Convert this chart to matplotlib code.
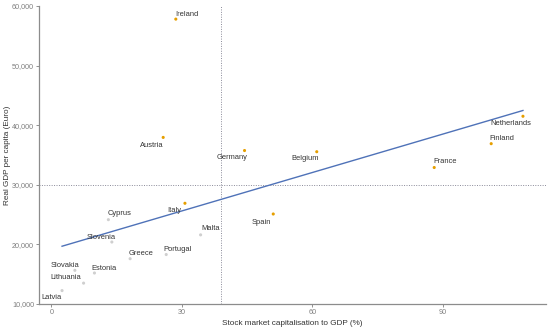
import numpy as np
import matplotlib
matplotlib.use("Agg")
import matplotlib.pyplot as plt

countries = ["Ireland", "Austria", "Germany", "Belgium", "Italy", "Spain", "Malta",
             "Netherlands", "Finland", "France", "Cyprus", "Slovenia", "Greece",
             "Portugal", "Slovakia", "Estonia", "Lithuania", "Latvia"]
market_cap = [28.6, 25.7, 44.4, 61.0, 30.7, 51.0, 34.3,
              108.4, 101.1, 88.0, 13.1, 13.9, 18.1,
              26.4, 5.4, 9.9, 7.4, 2.45]
gdp_pc = [57800, 37950, 35750, 35550, 26900, 25100, 21600,
          41500, 36900, 32900, 24150, 20400, 17600,
          18300, 15650, 15200, 13500, 12250]
group = ["core", "core", "core", "core", "core", "core", "periphery",
         "core", "core", "core", "periphery", "periphery", "periphery",
         "periphery", "periphery", "periphery", "periphery", "periphery"]
x_ref = 39
y_ref = 30000
x_ticks = [0, 30, 60, 90]
y_ticks = [10000, 20000, 30000, 40000, 50000, 60000]

# label offsets in pixels (style)
offsets = {
    "Ireland": (11, 5), "Austria": (-11, -8), "Germany": (-12, -7), "Belgium": (-12, -7),
    "Italy": (-11, -7), "Spain": (-12, -8), "Malta": (10, 6), "Netherlands": (-12, -7),
    "Finland": (11, 5), "France": (11, 6), "Cyprus": (11, 6), "Slovenia": (-11, 5),
    "Greece": (11, 5), "Portugal": (11, 5), "Slovakia": (-10, 5), "Estonia": (10, 5),
    "Lithuania": (-18, 6), "Latvia": (-11, -7),
}

x = np.array(market_cap)
y = np.array(gdp_pc)

fig = plt.figure(figsize=(5.5, 3.29), dpi=100)
ax = fig.add_axes([39/550, 1-304/329, (546-39)/550, (304-6)/329])

plt.rcParams['font.family'] = ['Liberation Sans', 'DejaVu Sans']

colors = ["#E69F00" if g == "core" else "#CFCFCF" for g in group]
ax.scatter(x, y, s=5, c=colors, linewidths=0, zorder=3)

slope, intercept = np.polyfit(x, y, 1)
xs = np.array([x.min(), x.max()])
ax.plot(xs, intercept + slope*xs, color="#4F72B8", lw=1.0, zorder=2)

ax.axvline(x_ref, color="#8A8A99", lw=0.7, ls=(0, (1, 1.5)), zorder=1)
ax.axhline(y_ref, color="#8A8A99", lw=0.7, ls=(0, (1, 1.5)), zorder=1)

for name, xi, yi in zip(countries, x, y):
    dx, dy = offsets[name]
    ax.annotate(name, (xi, yi), xytext=(dx, dy), textcoords="offset pixels",
                ha="center", va="center", fontsize=5.4, color="#333333",
                family=['Liberation Sans', 'DejaVu Sans'])

rng = x.max() - x.min()
ax.set_xlim(x.min() - 0.05*rng, x.max() + 0.05*rng)
ax.set_ylim(10000, 60000)
ax.set_xticks(x_ticks)
ax.set_yticks(y_ticks)
ax.set_yticklabels([f"{v:,}" for v in y_ticks])
ax.tick_params(labelsize=5.2, colors="#7F7F7F", length=2, width=0.6, pad=1.5,
               labelcolor="#7F7F7F")
for lab in ax.get_xticklabels() + ax.get_yticklabels():
    lab.set_family(['Liberation Sans', 'DejaVu Sans'])

for s in ["top", "right"]:
    ax.spines[s].set_visible(False)
for s in ["left", "bottom"]:
    ax.spines[s].set_color("#8C8C8C")
    ax.spines[s].set_linewidth(0.9)

ax.set_xlabel("Stock market capitalisation to GDP (%)", fontsize=5.9, color="#333333",
              family=['Liberation Sans', 'DejaVu Sans'], labelpad=3)
ax.set_ylabel("Real GDP per capita (Euro)", fontsize=5.9, color="#333333",
              family=['Liberation Sans', 'DejaVu Sans'], labelpad=0.5)

fig.savefig("out.png", dpi=100)
